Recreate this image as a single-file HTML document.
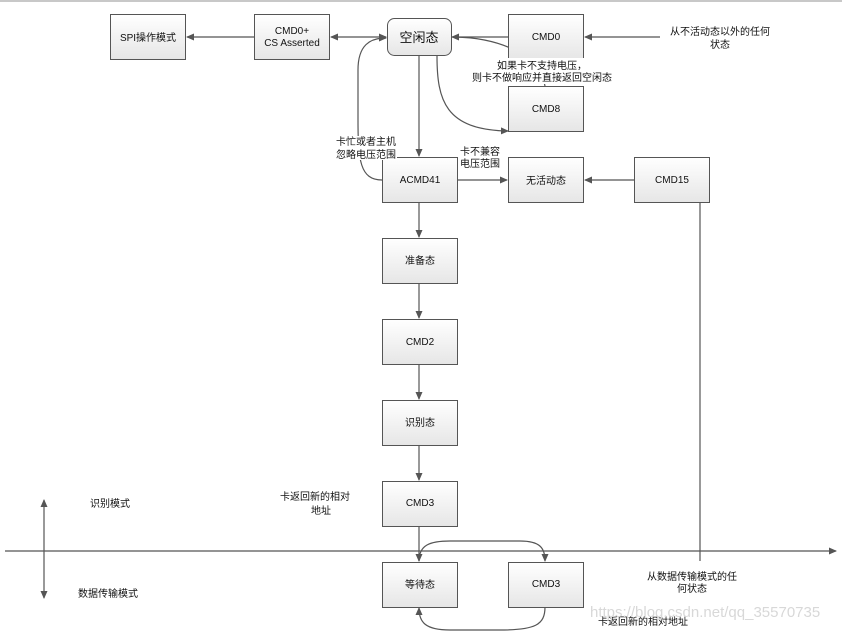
<!DOCTYPE html>
<html><head><meta charset="utf-8"><style>
html,body{margin:0;padding:0;background:#fff;}
svg{display:block;}
text{font-family:"Liberation Sans","Noto Sans CJK SC",sans-serif;font-size:10px;fill:#111;}
</style></head><body>
<svg width="842" height="632" viewBox="0 0 842 632" xmlns="http://www.w3.org/2000/svg">
<defs>
<linearGradient id="g" x1="0" y1="0" x2="0" y2="1"><stop offset="0" stop-color="#ffffff"/><stop offset="1" stop-color="#e6e6e6"/></linearGradient>
<marker id="a" markerWidth="8" markerHeight="8" refX="7" refY="4" orient="auto" markerUnits="userSpaceOnUse"><path d="M0,0.5 L8,4 L0,7.5 Z" fill="#555"/></marker>
<marker id="s" markerWidth="8" markerHeight="8" refX="1" refY="4" orient="auto" markerUnits="userSpaceOnUse"><path d="M8,0.5 L0,4 L8,7.5 Z" fill="#555"/></marker>
</defs>
<rect x="0" y="0" width="842" height="2" fill="#c8c8c8"/>
<g stroke="#555" stroke-width="1.2" fill="none">
<line x1="254" y1="37" x2="187" y2="37" marker-end="url(#a)"/>
<line x1="331" y1="37" x2="386" y2="37" marker-start="url(#s)" marker-end="url(#a)"/>
<line x1="508" y1="37" x2="452" y2="37" marker-end="url(#a)"/>
<line x1="660" y1="37" x2="585" y2="37" marker-end="url(#a)"/>
<path d="M545,86 C540,55 500,38 455,37" />
<path d="M437,56 C437,100 445,130 508,131" marker-end="url(#a)"/>
<line x1="419" y1="56" x2="419" y2="156" marker-end="url(#a)"/>
<path d="M382,180 C360,180 358,160 358,120 L358,70 C358,45 370,38 386,38" marker-end="url(#a)"/>
<line x1="457" y1="180" x2="507" y2="180" marker-end="url(#a)"/>
<line x1="634" y1="180" x2="585" y2="180" marker-end="url(#a)"/>
<line x1="419" y1="202" x2="419" y2="237" marker-end="url(#a)"/>
<line x1="419" y1="283" x2="419" y2="318" marker-end="url(#a)"/>
<line x1="419" y1="364" x2="419" y2="399" marker-end="url(#a)"/>
<line x1="419" y1="445" x2="419" y2="480" marker-end="url(#a)"/>
<line x1="419" y1="526" x2="419" y2="561" marker-end="url(#a)"/>
<line x1="5" y1="551" x2="836" y2="551" marker-end="url(#a)"/>
<line x1="44" y1="500" x2="44" y2="598" marker-start="url(#s)" marker-end="url(#a)"/>
<line x1="700" y1="561" x2="700" y2="192" marker-end="url(#a)"/>
<path d="M419,561 C419,545 430,541 450,541 L520,541 C540,541 545,548 545,561" marker-end="url(#a)"/>
<path d="M545,607 C545,625 535,630 500,630 L450,630 C425,630 419,622 419,608" marker-end="url(#a)"/>
</g>
<g stroke="#555" stroke-width="1" fill="url(#g)">
<rect x="110.5" y="14.5" width="75" height="45"/>
<rect x="254.5" y="14.5" width="75" height="45"/>
<rect x="387.5" y="18.5" width="64" height="37" rx="7"/>
<rect x="508.5" y="14.5" width="75" height="45"/>
<rect x="508.5" y="86.5" width="75" height="45"/>
<rect x="382.5" y="157.5" width="75" height="45"/>
<rect x="508.5" y="157.5" width="75" height="45"/>
<rect x="634.5" y="157.5" width="75" height="45"/>
<rect x="382.5" y="238.5" width="75" height="45"/>
<rect x="382.5" y="319.5" width="75" height="45"/>
<rect x="382.5" y="400.5" width="75" height="45"/>
<rect x="382.5" y="481.5" width="75" height="45"/>
<rect x="382.5" y="562.5" width="75" height="45"/>
<rect x="508.5" y="562.5" width="75" height="45"/>
</g>
<rect x="470" y="58" width="145" height="26" fill="#fff"/>
<rect x="335" y="136" width="62" height="24" fill="#fff"/>
<g text-anchor="middle">
<text x="148" y="41">SPI操作模式</text>
<text x="292" y="34">CMD0+</text>
<text x="292" y="46">CS Asserted</text>
<text x="419" y="42" style="font-size:13px">空闲态</text>
<text x="546" y="40">CMD0</text>
<text x="546" y="112">CMD8</text>
<text x="420" y="183">ACMD41</text>
<text x="546" y="184">无活动态</text>
<text x="672" y="183">CMD15</text>
<text x="420" y="264">准备态</text>
<text x="420" y="345">CMD2</text>
<text x="420" y="426">识别态</text>
<text x="420" y="506">CMD3</text>
<text x="420" y="588">等待态</text>
<text x="546" y="587">CMD3</text>
<text x="542" y="69">如果卡不支持电压，</text>
<text x="542" y="81">则卡不做响应并直接返回空闲态</text>
<text x="720" y="35">从不活动态以外的任何</text>
<text x="720" y="48">状态</text>
<text x="366" y="145">卡忙或者主机</text>
<text x="366" y="158">忽略电压范围</text>
<text x="480" y="155">卡不兼容</text>
<text x="480" y="167">电压范围</text>
<text x="315" y="500">卡返回新的相对</text>
<text x="321" y="514">地址</text>
<text x="110" y="507">识别模式</text>
<text x="108" y="597">数据传输模式</text>
<text x="692" y="580">从数据传输模式的任</text>
<text x="692" y="592">何状态</text>
<text x="643" y="625">卡返回新的相对地址</text>
</g>
<text x="590" y="617" style="font-size:15px;fill:#d8d8d8">https://blog.csdn.net/qq_35570735</text>
</svg>
</body></html>
